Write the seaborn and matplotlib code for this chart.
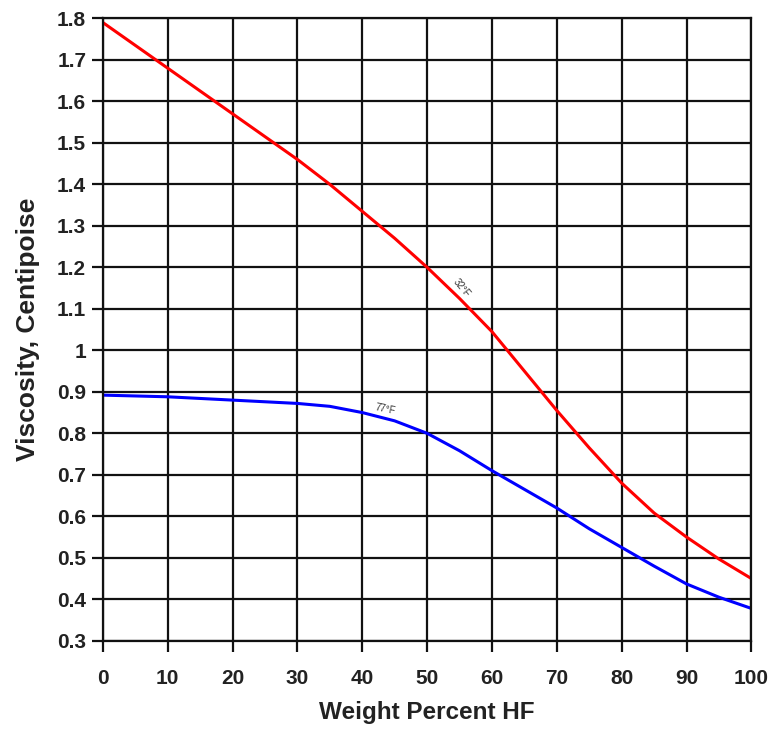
import numpy as np
import pandas as pd
import matplotlib
matplotlib.use("Agg")
import matplotlib.pyplot as plt
import seaborn as sns

# values
wt_pct = [0, 5, 10, 15, 20, 25, 30, 35, 40, 45, 50, 55, 60, 65, 70, 75, 80, 85, 90, 95, 100]
visc_32f = [1.79, 1.735, 1.68, 1.625, 1.57, 1.515, 1.46, 1.40, 1.335, 1.27, 1.20, 1.125, 1.045,
            0.95, 0.855, 0.765, 0.68, 0.608, 0.55, 0.497, 0.45]
visc_77f = [0.892, 0.890, 0.888, 0.884, 0.880, 0.876, 0.872, 0.865, 0.850, 0.830, 0.800, 0.758,
            0.710, 0.665, 0.620, 0.570, 0.525, 0.480, 0.437, 0.405, 0.378]
curve_labels = ["32°F", "77°F"]

df = pd.DataFrame({
    "wt": wt_pct * 2,
    "visc": visc_32f + visc_77f,
    "temp": [curve_labels[0]] * len(wt_pct) + [curve_labels[1]] * len(wt_pct),
})

sns.set_theme(style="white")
plt.rcParams["font.family"] = ["Liberation Sans", "DejaVu Sans"]

fig = plt.figure(figsize=(7.73, 7.34), dpi=100)
ax = fig.add_axes([0.133, 0.127, 0.839, 0.848])

sns.lineplot(data=df, x="wt", y="visc", hue="temp", palette=["#ff0000", "#0000ff"],
             linewidth=2.2, legend=False, ax=ax)

ax.set_xlim(0, 100)
ax.set_ylim(0.3, 1.8)
yt = np.round(np.arange(0.3, 1.81, 0.1), 1)
ax.set_xticks(np.arange(0, 101, 10))
ax.set_yticks(yt)
ax.set_yticklabels([f"{v:g}" for v in yt])
ax.grid(True, color="#111111", linewidth=1.6)
ax.set_axisbelow(True)
for s in ax.spines.values():
    s.set_color("#111111")
    s.set_linewidth(1.6)
ax.tick_params(axis="both", direction="out", length=8, width=1.6, color="#111111",
               labelsize=15, bottom=True, left=True)
ax.tick_params(axis="y", pad=4)
ax.tick_params(axis="x", pad=12)
for lab in ax.get_xticklabels() + ax.get_yticklabels():
    lab.set_fontweight("bold")
    lab.set_color("#222222")

ax.set_xlabel("Weight Percent HF", fontsize=17.5, fontweight="bold", color="#222222", labelpad=10)
ax.set_ylabel("Viscosity, Centipoise", fontsize=19, fontweight="bold", color="#222222", labelpad=12)

ax.text(55.3, 1.15, curve_labels[0], fontsize=7, rotation=-50, color="#333333",
        ha="center", va="center")
ax.text(43.5, 0.857, curve_labels[1], fontsize=7, rotation=-12, color="#333333",
        ha="center", va="center")

fig.savefig("out.png", dpi=100)
